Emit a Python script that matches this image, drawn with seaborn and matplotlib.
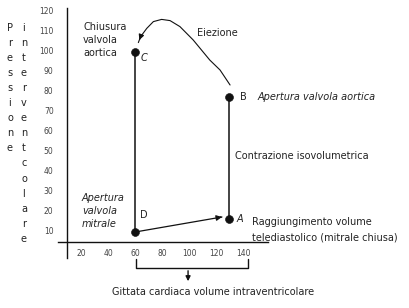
import matplotlib
matplotlib.use("Agg")
import matplotlib.pyplot as plt
import seaborn as sns
import pandas as pd

# ---- data ----
point_labels = ["A", "B", "C", "D"]
point_volume = [129, 129, 60, 60]
point_pressure = [15.5, 76.5, 99, 9]

# isovolumetric segments (D->C relaxation line, A->B contraction)
relax_volume = [60, 60]
relax_pressure = [9, 99]
contr_volume = [129, 129]
contr_pressure = [15.5, 76.5]

# filling D -> A
fill_volume = [60, 124]
fill_pressure = [9, 16.5]

# ejection arc B -> C (closing of aortic valve)
ejection_volume = [130, 122.6, 115, 102.8, 93, 85.7, 79.5, 73.4, 68.5, 64, 62.3]
ejection_pressure = [82.5, 90, 95, 105, 111.7, 114.7, 115.3, 114.2, 110.8, 106.7, 103.7]

x_ticks = [20, 40, 60, 80, 100, 120, 140]
y_ticks = [10, 20, 30, 40, 50, 60, 70, 80, 90, 100, 110, 120]

# stroke-volume bracket
bracket_volume = [60.5, 60.5, 143, 143]
bracket_level = [-4.5, -9, -9, -4.5]

sns.set_style("white")
plt.rcParams["font.family"] = ["DejaVu Sans"]

fig = plt.figure(figsize=(4.10, 3.08), dpi=100)
ax = fig.add_axes([58 / 410, 50 / 308, 210 / 410, 250 / 308])
ax.set_xlim(3, 158)
ax.set_ylim(-4, 121)

ink = "#111111"
txt = "#222222"

for xs, ys, w in [(relax_volume, relax_pressure, 1.1),
                  (contr_volume, contr_pressure, 1.1),
                  (ejection_volume, ejection_pressure, 0.8),
                  (fill_volume, fill_pressure, 0.9)]:
    sns.lineplot(x=xs, y=ys, ax=ax, color=ink, lw=w, sort=False,
                 estimator=None, errorbar=None)

# arrowheads
ax.annotate("", xy=(fill_volume[-1], fill_pressure[-1]),
            xytext=(fill_volume[-1] - 3, fill_pressure[-1] - 0.35),
            arrowprops=dict(arrowstyle="-|>", color=ink, lw=0.9, mutation_scale=8))
ax.annotate("", xy=(ejection_volume[-1], ejection_pressure[-1]),
            xytext=(ejection_volume[-2], ejection_pressure[-2]),
            arrowprops=dict(arrowstyle="-|>", color=ink, lw=0.8, mutation_scale=8))

pts = pd.DataFrame({"v": point_volume, "p": point_pressure, "lab": point_labels})
sns.scatterplot(data=pts, x="v", y="p", ax=ax, color=ink, s=32, edgecolor=ink, zorder=5)

# axes style
for side in ["top", "right"]:
    ax.spines[side].set_visible(False)
ax.spines["left"].set_position(("data", 10))
ax.spines["bottom"].set_position(("data", 4))
for side in ["left", "bottom"]:
    ax.spines[side].set_color(ink)
    ax.spines[side].set_linewidth(1.0)

ax.set_xticks(x_ticks)
ax.set_xticks(list(range(10, 160, 10)), minor=True)
ax.set_yticks(y_ticks)
ax.set_yticks(list(range(5, 121, 5)), minor=True)
ax.set_xticklabels([str(t) for t in x_ticks])
ax.set_yticklabels([str(t) for t in y_ticks])
ax.tick_params(axis="x", which="both", direction="in", length=3, width=0.8,
               color=ink, labelsize=5.5, labelcolor="#444444", pad=5)
ax.tick_params(axis="y", which="both", direction="out", length=3, width=0.8,
               color=ink, labelsize=5.5, labelcolor="#444444", pad=7)
ax.set_xlabel("")
ax.set_ylabel("")
ax.grid(False)

fs = 7
ax.text(21.5, 105, "Chiusura\nvalvola\naortica", fontsize=fs, color=txt,
        ha="left", va="center", linespacing=1.35)
ax.text(66.5, 96, "C", fontsize=fs, color=txt, style="italic", ha="center", va="center")
ax.text(121, 108.5, "Eiezione", fontsize=fs, color=txt, ha="center", va="center")
ax.text(140, 76.5, "B", fontsize=fs, color=txt, ha="center", va="center")
ax.text(150.5, 76.5, "Apertura valvola aortica", fontsize=fs, color=txt,
        style="italic", ha="left", va="center", clip_on=False)
ax.text(133.5, 47, "Contrazione isovolumetrica", fontsize=fs, color=txt,
        ha="left", va="center", clip_on=False)
ax.text(137, 15.5, "A", fontsize=fs, color=txt, style="italic", ha="center", va="center")
ax.text(146, 14, "Raggiungimento volume", fontsize=fs, color=txt,
        ha="left", va="center", clip_on=False)
ax.text(146, 6.5, "telediastolico (mitrale chiusa)", fontsize=fs, color=txt,
        ha="left", va="center", clip_on=False)
ax.text(66, 17.5, "D", fontsize=fs, color=txt, ha="center", va="center")
ax.text(20.7, 19.5, "Apertura\nvalvola\nmitrale", fontsize=fs, color=txt,
        style="italic", ha="left", va="center", linespacing=1.35)

# bracket and caption below the x axis
ax.plot(bracket_volume, bracket_level, color=ink, lw=1.0, clip_on=False)
ax.annotate("", xy=(99, -17), xytext=(99, -9),
            arrowprops=dict(arrowstyle="-|>", color=ink, lw=1.0, mutation_scale=7),
            annotation_clip=False)
ax.text(42.8, -21, "Gittata cardiaca volume intraventricolare", fontsize=fs,
        color=txt, ha="left", va="center", clip_on=False)

# vertical y-axis title, one letter per row
col1 = "Pressione"
col2 = "interventcolare"
for i, ch in enumerate(col1):
    fig.text(10 / 410, 1 - (28 + i * 15.05) / 308, ch, fontsize=fs, color=txt,
             ha="center", va="center")
for i, ch in enumerate(col2):
    fig.text(24 / 410, 1 - (28 + i * 15.05) / 308, ch, fontsize=fs, color=txt,
             ha="center", va="center")

fig.savefig("out.png", dpi=100)
